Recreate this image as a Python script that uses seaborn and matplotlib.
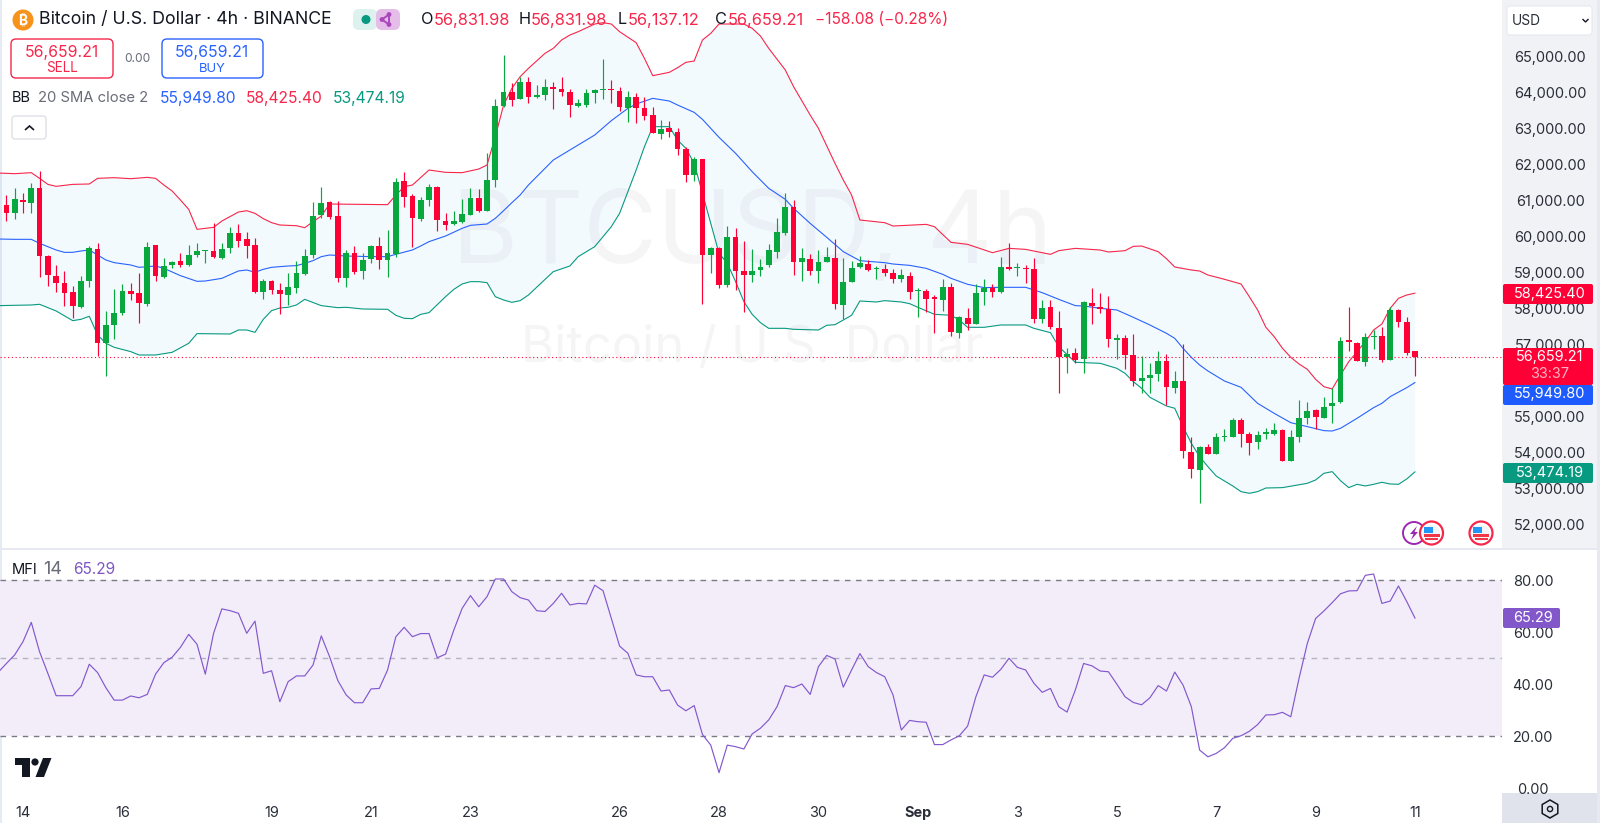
import numpy as np
import pandas as pd
import matplotlib
matplotlib.use("Agg")
import matplotlib.pyplot as plt
from matplotlib.patches import Rectangle, FancyBboxPatch, Circle, Polygon, RegularPolygon
from matplotlib.transforms import Affine2D
import seaborn as sns

# ---------- candle data (4h bars, first bar index = -2; bar 0 = Aug 14 00:00) ----------
opens = [60860,60638,61000,60934,61350,59466,58902,58699,58468,58052,
 58764,59660,57036,57553,57876,58486,58440,58117,59752,58884,
 59198,59309,59198,59484,59595,59595,59390,59668,60084,59936,
 59761,58468,58754,58514,58375,58560,58958,59483,60592,60952,
 60564,58856,59530,59041,59364,59733,59346,59511,61535,61110,
 60481,61008,61378,60435,60343,60389,60592,61054,60712,61553,
 63614,63992,63798,64279,63863,63919,64131,64076,64002,63623,
 63641,63983,64057,64076,64039,63568,63854,63568,63364,62838,
 63004,62902,62431,61701,62135,59484,59669,58653,59973,59031,
 58939,59068,59198,59567,60084,60823,59299,59373,59050,59299,
 59401,58098,58736,59161,59235,59105,59105,58985,58810,58902,
 58495,58486,58311,58237,58597,57331,57738,57572,58449,58560,
 58459,59152,59124,59124,59096,57719,58052,57451,56648,56758,
 56592,58144,58033,57987,57128,57184,56712,55991,56065,56176,
 56546,55807,55991,54032,53524,54171,53959,54430,54448,54910,
 54522,54300,54531,54522,54633,53765,54430,54975,55188,54975,
 55298,55400,57128,57054,56527,57220,57239,56574,57960,57618,56831.98]
highs = [61147,61331,61193,61488,61821,59484,59207,59050,58634,58902,
 59734,59826,57932,58532,58680,58717,58976,59854,59771,59392,
 59318,59530,59752,59808,59623,60361,59807,60250,60333,60130,
 59945,58810,58791,58717,58994,59327,59641,60962,61378,60980,
 60980,59623,59743,59530,59760,59973,60176,61608,61775,61174,
 61100,61451,61396,60638,60712,61026,61331,61304,62320,63798,
 65027,64242,64427,64427,64196,64362,64288,64408,64076,63798,
 64076,64076,64907,64334,64131,64039,63965,63872,63577,63226,
 63207,62995,62486,62209,62135,59715,59700,60296,60222,59881,
 59651,59364,59789,60500,61211,61008,59669,59512,59623,59697,
 59928,59392,59318,59466,59346,59179,59235,59096,59087,59004,
 58560,58542,58375,58810,58717,57793,58006,58671,58828,58680,
 59420,59808,59253,59207,59392,58237,58237,57941,56897,56897,
 58209,58560,58422,58348,57294,57267,57294,56694,56481,56832,
 56740,56269,57017,54448,54199,54245,54541,54652,54957,54975,
 54568,54605,54679,54818,54650,54633,55465,55418,55206,55557,
 55788,57202,58052,57082,57313,57405,57479,58052,57987,57756,56831.98]
lows = [60435,60481,60638,60638,58884,58634,58468,58070,57747,58006,
 58606,56684,56139,57146,57821,58237,57608,58070,58773,58856,
 59115,59161,59179,59420,59272,59410,59373,59549,59714,59391,
 58440,58264,58403,57849,58098,58440,58930,59392,60500,60472,
 58745,58606,58958,58810,59253,59087,58865,59420,60805,59696,
 60435,60842,60148,60176,60315,60361,60592,60684,60712,61378,
 63595,63614,63798,63706,63826,63780,63521,63891,63318,63595,
 63577,63688,63817,63706,63475,63179,63133,63226,62856,62690,
 62745,62255,61498,61544,58126,58994,58579,58606,58514,57913,
 58745,58911,59142,59392,60028,58930,58764,58930,58699,59299,
 57987,57710,58736,59115,59050,58819,58902,58717,58745,58255,
 57756,57895,57313,57932,57248,57193,57405,57572,58098,58329,
 58440,59068,58902,58699,57608,57608,57424,55650,56222,56500,
 56222,57572,57886,56925,56592,56315,55853,55668,55650,56001,
 55326,55668,53848,53293,52600,53959,53959,54337,54448,54153,
 53940,54097,54374,54485,53765,53765,54310,54799,54651,54975,
 54836,55372,56832,56537,56407,56869,56527,56574,57479,56712,56137.12]
closes = [60638,61026,60952,61350,59456,58939,58717,58422,58080,58764,
 59669,57036,57553,57876,58486,58403,58163,59715,58902,59179,
 59299,59198,59484,59586,59614,59438,59650,60084,59880,59742,
 58468,58773,58514,58394,58588,58976,59466,60574,60934,60546,
 58856,59530,59022,59346,59734,59345,59549,61516,61100,60500,
 61008,61378,60454,60315,60435,60610,61054,60712,61553,63614,
 64011,63780,64288,63872,63919,64131,64076,64011,63641,63688,
 63965,64057,64076,64057,63595,63854,63568,63336,62874,62985,
 62902,62431,61701,62135,59484,59678,58653,59973,59050,58939,
 59050,59161,59632,60110,60823,59299,59392,59041,59299,59420,
 58126,58745,59133,59253,59068,59124,58976,58810,58930,58468,
 58523,58255,58274,58606,57359,57756,57572,58440,58579,58468,
 59152,59087,59142,59087,57719,58024,57479,56648,56740,56574,
 58172,58071,57987,57146,57193,56712,55991,56065,56158,56555,
 55834,55982,54060,53543,54171,53959,54430,54467,54910,54522,
 54282,54494,54568,54633,53765,54430,54957,55169,55003,55280,
 55391,57110,57072,56537,57202,57239,56574,57960,57618,56777,56659.21]

# ---------- Bollinger bands, read at the bars where the line changes direction ----------
upper_k = [-3,-1,1,2,3,4,6,8,9,11,13,15,16,17,18,19,20,21,23,24,26,27,28,29,30,31,33,34,35,36,37,
 44,45,46,47,49,51,53,55,56,57,58,59,60,61,63,64,65,66,67,69,70,71,72,74,75,76,78,79,80,81,82,83,84,
 87,88,89,90,92,93,95,96,98,99,100,101,104,105,109,110,112,114,117,119,121,124,125,127,130,131,133,134,135,
 137,138,139,141,142,143,145,147,148,149,150,151,152,153,154,155,156,157,158,159,160,161,162,163,164,165,166,167,168]
upper = [61756,61738,61766,61609,61442,61387,61442,61452,61609,61627,61599,61636,61609,61424,61257,61008,60749,60195,60250,60426,60675,60712,60638,60491,60380,60315,60296,60241,60407,60564,60897,
 60879,61147,61378,61424,61840,61775,61766,61867,61978,62764,63641,64103,64427,64658,65074,65212,65443,65582,65674,65887,65924,65887,65674,65369,64935,64455,64547,64676,64824,64861,65443,65628,65887,
 65887,65767,65554,65212,64612,64150,63364,62995,62024,61562,61147,60454,60380,60287,60333,60269,59835,59779,59548,59668,59640,59502,59604,59668,59622,59567,59604,59724,59733,
 59576,59382,59151,59068,59040,58930,58810,58680,58329,57960,57479,57220,56897,56648,56463,56315,56038,55834,55770,56158,56527,56805,57082,57405,57572,58006,58283,58375,58425.40]

basis_k = [-3,-1,1,2,3,4,5,6,7,8,9,10,11,13,14,16,17,19,21,22,24,26,27,28,29,30,32,33,34,35,36,37,39,42,44,45,47,48,49,51,53,54,56,57,58,59,60,61,
 64,66,69,71,73,74,76,78,79,81,82,83,84,86,88,90,92,93,95,97,99,101,104,105,107,109,111,112,114,116,118,121,123,125,
 127,128,130,132,134,136,138,139,140,141,142,143,145,147,149,151,153,155,157,158,159,161,163,164,165,167,168]
basis = [59927,59918,59918,59807,59714,59622,59557,59558,59595,59623,59484,59346,59272,59207,59142,59179,59115,58911,58754,58763,58837,59041,59068,59004,59087,59142,59179,59189,59253,59327,59438,59484,59456,59438,59438,59503,59623,59734,59854,60010,60223,60306,60343,60500,60712,60934,61147,61424,
 62117,62394,62810,63207,63549,63670,63826,63752,63641,63438,63244,62995,62745,62302,61793,61331,61026,60777,60361,59973,59576,59326,59271,59234,59197,59114,58947,58837,58671,58579,58588,58588,58440,58255,
 58080,58070,58006,57960,57756,57544,57313,57174,56897,56648,56435,56269,55991,55816,55372,55095,54836,54726,54615,54605,54679,54957,55252,55372,55557,55807,55949.80]

lower_k = [-3,1,2,4,6,7,8,9,10,11,13,14,16,18,20,21,25,26,27,28,29,30,31,32,33,34,36,38,39,41,44,45,46,47,48,49,51,52,53,54,55,56,57,58,59,60,61,
 64,66,67,69,71,72,74,75,76,78,79,80,81,82,83,84,85,86,87,88,89,90,92,93,96,97,98,99,100,101,103,104,106,107,108,110,112,113,114,116,118,121,122,124,125,
 127,130,132,133,134,135,136,138,139,140,141,142,143,144,146,147,148,149,150,152,155,156,157,158,159,160,161,162,163,164,165,166,167,168]
lower = [58080,58098,58117,57932,57664,57701,57784,57267,57036,56925,56805,56712,56712,56786,57036,57304,57294,57405,57405,57340,57701,57941,58015,58034,58098,58255,58080,58024,58034,57987,57978,57812,57729,57719,57839,57886,58329,58532,58680,58745,58745,58717,58329,58237,58172,58218,58375,
 59022,59179,59438,59715,60269,60638,61840,62486,63041,63041,62671,62440,62024,61193,60361,59530,59253,58745,58191,57839,57608,57451,57451,57424,57405,57535,57553,57682,57812,58209,58181,58218,58181,58135,58034,57839,57812,57682,57479,57479,57544,57544,57451,57331,56943,
 56509,56481,56343,56204,55973,55788,55539,55298,55234,54726,54264,53894,53617,53358,53081,52924,52878,52924,53025,53035,53155,53247,53432,53478,53229,53035,53127,53081,53127,53183,53136,53127,53275,53474.19]

# ---------- MFI, one value per bar starting at bar index -3 ----------
mfi = [44.5,47.9,51.2,56.3,63.7,52.4,44.1,35.5,35.5,35.5,39.0,47.6,44.4,38.6,33.8,33.8,35.4,34.7,36.0,43.8,
 48.2,50.3,54.1,59.1,55.3,43.8,59.5,68.9,68.2,67.2,59.5,64.2,44.1,45.1,33.2,40.9,43.1,43.1,47.3,58.5,
 50.5,41.3,35.8,32.8,32.8,38.1,38.3,45.4,58.2,61.8,58.2,59.4,59.4,50.1,51.5,60.8,69.1,74.0,69.7,73.6,
 80.4,80.4,75.5,73.2,72.3,68.2,67.9,71.0,74.9,70.4,71.0,70.8,78.0,75.9,65.2,54.6,51.8,43.5,42.8,42.8,
 37.3,37.7,31.9,29.7,31.7,20.6,16.5,5.9,16.5,15.9,15.0,20.8,23.0,26.2,31.3,39.4,38.6,
 40.0,36.0,46.7,51.0,49.6,38.8,45.4,51.7,46.7,44.4,42.8,35.8,22.3,26.0,25.5,25.3,16.7,16.7,18.5,20.1,
 23.8,35.1,43.5,42.6,45.6,49.9,46.4,45.4,40.3,36.8,38.3,31.3,29.2,37.7,47.9,47.0,45.0,44.7,40.0,35.1,
 32.9,32.0,34.7,39.4,37.3,44.6,39.6,31.3,14.6,12.0,13.3,15.5,19.1,20.1,21.8,24.4,28.1,28.2,29.1,27.4,
 42.2,55.6,65.2,68.1,71.3,74.7,75.8,75.9,81.8,82.3,71.0,71.9,77.7,71.7,65.29]

# the 56,000 label sits behind the price tags in the reference, so it is not drawn
price_ticks = [52000,53000,54000,55000,57000,58000,59000,60000,61000,62000,63000,64000,65000]
mfi_ticks = [0,20,40,60,80]
date_bars = [0,12,30,42,54,72,84,96,108,120,132,144,156,168]
date_labels = ["14","16","19","21","23","26","28","30","Sep","3","5","7","9","11"]

# ---------- colours ----------
UP, DOWN = "#08A83F", "#FF0036"
C_UP, C_MID, C_LOW = "#F7264A", "#2962FF", "#089981"
INK = "#131722"; GREY = "#6A6D78"; PURPLE = "#7E57C2"; TICK = "#2A2E39"

sns.set_theme(style="white")
plt.rcParams["font.family"] = ["Inter", "DejaVu Sans"]

W, H = 1600, 823
fig = plt.figure(figsize=(W/100, H/100), dpi=100, facecolor="white")
PX = Affine2D().scale(1, -1).translate(0, H)   # pixel coordinates, origin top left
renderer = fig.canvas.get_renderer()

def fit_size(s, width, **kw):
    t = fig.text(0, 0, s, fontsize=10, **kw)
    w = t.get_window_extent(renderer).width
    t.remove()
    return 10*width/w

def axbox(x0, y0, x1, y1):
    return [x0/W, 1-y1/H, (x1-x0)/W, (y1-y0)/H]

PXBAR = 8.286
def k_at(px):
    return (px-23)/PXBAR

ax = fig.add_axes(axbox(0, 0, 1502, 548), zorder=1)
ax2 = fig.add_axes(axbox(0, 550, 1502, 793), zorder=1)
for a in (ax, ax2):
    a.set_xlim(k_at(0), k_at(1502))
    a.set_facecolor("none")
    for s in a.spines.values():
        s.set_visible(False)
ax.set_ylim(65000-(548-56)*27.72, 65000+56*27.72)
ax2.set_ylim(-1.92, 91.54)

# background strips
fig.add_artist(Rectangle((1502, 0), 98, 548, transform=PX, fc="#F0F2F6", ec="none", zorder=-1))
fig.add_artist(Rectangle((0, 548), 1600, 2, transform=PX, fc="#E6E9F0", ec="none", zorder=-1))
fig.add_artist(Rectangle((0, 0), 1.5, 823, transform=PX, fc="#E6EAF3", ec="none", zorder=-1))
fig.add_artist(Rectangle((1596.5, 0), 3.5, 823, transform=PX, fc="#E6E9F0", ec="none", zorder=-1))
fig.add_artist(Rectangle((1502, 793), 95, 30, transform=PX, fc="#E0E3EB", ec="none", zorder=-1))

# watermark
ax.text(752, 263, "BTCUSD, 4h", transform=PX, fontsize=fit_size("BTCUSD, 4h", 601), color=INK, alpha=0.04,
        ha="center", va="baseline", zorder=0)
ax.text(752, 362, "Bitcoin / U.S. Dollar", transform=PX, fontsize=fit_size("Bitcoin / U.S. Dollar", 465),
        color=INK, alpha=0.04, ha="center", va="baseline", zorder=0)

# band fill and lines
ax.fill(np.r_[upper_k, lower_k[::-1]], np.r_[upper, lower[::-1]], color="#1FA2F0", alpha=0.05, lw=0, zorder=1)
for xs, ys, col in ((upper_k, upper, C_UP), (basis_k, basis, C_MID), (lower_k, lower, C_LOW)):
    sns.lineplot(data=pd.DataFrame({"bar": xs, "price": ys}), x="bar", y="price", ax=ax,
                 color=col, lw=0.8, errorbar=None, sort=False, zorder=2)

# candles
bars = np.arange(-2, -2+len(opens))
o, h, l, c = map(np.asarray, (opens, highs, lows, closes))
cols = np.where(c >= o, UP, DOWN)
ax.vlines(bars, l, h, colors=cols, lw=0.85, zorder=3)
ax.bar(bars, np.abs(c-o), bottom=np.minimum(o, c), width=0.70, color=cols, lw=0, zorder=4)
ax.axhline(closes[-1], color=DOWN, lw=0.8, ls=(0, (1, 2.4)), zorder=5)

# price axis
tick_size = fit_size("65,000.00", 73)
ax.set_yticks(price_ticks, [f"{t:,.2f}" for t in price_ticks])
ax.yaxis.tick_right()
ax.tick_params(axis="y", length=0, pad=34.6, labelsize=tick_size, labelcolor=TICK)
for t in ax.get_yticklabels():
    t.set_ha("center")
ax.set_xticks([])
ax.set_xlabel(""); ax.set_ylabel("")

# MFI panel
ax2.axhspan(20, 80, color="#F3EDFA", lw=0, zorder=1)
ax2.axhline(80, color="#787B86", lw=1, ls=(0, (4, 4)), zorder=2)
ax2.axhline(50, color="#787B86", lw=1, ls=(0, (4, 4)), alpha=0.5, zorder=2)
ax2.axhline(20, color="#787B86", lw=1, ls=(0, (4, 4)), zorder=2)
sns.lineplot(data=pd.DataFrame({"bar": np.arange(-3, -3+len(mfi)), "mfi": mfi}), x="bar", y="mfi", ax=ax2,
             color="#8258CC", lw=0.85, errorbar=None, sort=False, zorder=3)
ax2.set_yticks(mfi_ticks, [f"{t:.2f}" for t in mfi_ticks])
ax2.yaxis.tick_right()
ax2.tick_params(axis="y", length=0, pad=22.3, labelsize=tick_size, labelcolor=TICK)
for t in ax2.get_yticklabels():
    t.set_ha("center")
ax2.set_xticks(date_bars, date_labels)
ax2.tick_params(axis="x", length=0, pad=9.5, labelsize=tick_size, labelcolor=TICK)
for t in ax2.get_xticklabels():
    if t.get_text() == "Sep":
        t.set_fontweight("bold")
ax2.set_xlabel(""); ax2.set_ylabel("")

# ---------- overlays in pixel coordinates ----------
def T(x, y, s, width=None, size=10.3, color=INK, ha="left", va="center", **kw):
    if width is not None:
        size = fit_size(s, width, **kw)
    return fig.text(x/W, 1-y/H, s, fontsize=size, color=color, ha=ha, va=va, zorder=6, **kw)

def box(x, y, w, h, fc="white", ec="none", r=4, lw=1.0, z=2):
    p = FancyBboxPatch((x+r, y+r), w-2*r, h-2*r, boxstyle=f"round,pad={r},rounding_size={r}",
                       transform=PX, fc=fc, ec=ec, lw=lw, zorder=z)
    fig.add_artist(p)

def circ(x, y, r, fc, ec="none", lw=1.0, z=3):
    fig.add_artist(Circle((x, y), r, transform=PX, fc=fc, ec=ec, lw=lw, zorder=z))

# header
circ(23, 20, 10.5, "#F7931A")
T(23, 20, "₿", size=10, color="white", ha="center", fontweight="bold")
T(39, 20, "Bitcoin / U.S. Dollar · 4h · BINANCE", width=295)
box(353, 9, 24, 21, fc="#DDF1EE", r=6)
box(376, 9, 24, 21, fc="#E4BEE8", r=6)
circ(366, 19.5, 4.5, "#089981")
for dx, dy in ((-4, 0), (3, -5), (3, 5)):
    circ(386+dx, 19.5+dy, 2.4, "#AB47BC")
fig.add_artist(Polygon([(382, 19.5), (389, 14.5), (389, 24.5)], closed=True, transform=PX,
                       fc="none", ec="#AB47BC", lw=1.4, zorder=3))
RED = "#F7264A"
OS = fit_size("56,831.98", 77)
T(421, 20, "O", size=OS); T(434, 20, "56,831.98", size=OS, color=RED)
T(519, 20, "H", size=OS); T(531, 20, "56,831.98", size=OS, color=RED)
T(618, 20, "L", size=OS); T(628, 20, "56,137.12", size=OS, color=RED)
T(715, 20, "C", size=OS); T(728, 20, "56,659.21", size=OS, color=RED)
T(815, 20, "−158.08 (−0.28%)", width=134, color=RED)

# sell / buy
box(11, 39, 102, 39, ec="#F7264A", r=5, lw=1.0)
T(62, 52, "56,659.21", width=75, color="#F7264A", ha="center")
T(62, 68.5, "SELL", width=32, color="#F7264A", ha="center")
T(137, 58.5, "0.00", width=26.5, color=GREY, ha="center")
box(162, 39, 101, 39, ec="#2962FF", r=5, lw=1.0)
T(212, 52, "56,659.21", width=75, color="#2962FF", ha="center")
T(212, 68.5, "BUY", width=27, color="#2962FF", ha="center")

# legend row
T(12, 98.5, "BB", width=19)
T(37.5, 98.5, "20 SMA close 2", width=111, color=GREY)
LEG = fit_size("55,949.80", 77.5)
T(160, 98.5, "55,949.80", size=LEG, color=C_MID)
T(246, 98.5, "58,425.40", size=LEG, color=C_UP)
T(333, 98.5, "53,474.19", size=LEG, color=C_LOW)
box(12, 116, 34, 23, ec="#DDE0E6", r=3, lw=1.0)
fig.add_artist(Polygon([(25, 130), (29.5, 126), (34, 130)], closed=False, transform=PX,
                       fc="none", ec=INK, lw=1.2, zorder=3))

# currency box
box(1507, 6, 85, 29, ec="#E6E9F0", r=3, lw=0.8)
T(1512, 21, "USD", width=29, color=TICK)
fig.add_artist(Polygon([(1582.5, 19), (1585.5, 22), (1588.5, 19)], closed=False, transform=PX,
                       fc="none", ec=INK, lw=1.0, zorder=3))

# price tags
def tag(y0, y1, fc, lines, x0=1503, x1=1593, cx=1550):
    box(x0, y0, x1-x0, y1-y0, fc=fc, r=2, z=2)
    for yy, s, col in lines:
        T(cx, yy, s, size=tick_size, color=col, ha="center")

tag(284, 304, "#FF0036", [(294, "58,425.40", "white")])
tag(348, 385, "#FF0036", [(357, "56,659.21", "white"), (373.5, "33:37", "#FFB3C2")])
tag(385, 405, "#1E5BFF", [(394, "55,949.80", "white")])
tag(463, 483, "#089981", [(473, "53,474.19", "white")])
tag(608, 628, "#8257C9", [(618, "65.29", "white")], x0=1503, x1=1560, cx=1533)

# event icons
circ(1414, 533, 11, "white", ec="#9C27B0", lw=1.4)
fig.add_artist(Polygon([(1417, 526), (1410, 534), (1413.5, 534), (1411, 540), (1418, 532), (1414.5, 532)],
                       transform=PX, fc="#9C27B0", ec="none", zorder=3))
for cx_ in (1431.5, 1481):
    circ(cx_, 533, 11.5, "white", ec="#F7264A", lw=1.6)
    circ(cx_, 533, 8.5, "#F2F4F8")
    fig.add_artist(Rectangle((cx_-8, 534), 16, 2.6, transform=PX, fc="#F23645", ec="none", zorder=3))
    fig.add_artist(Rectangle((cx_-6.5, 538), 13, 2.4, transform=PX, fc="#F23645", ec="none", zorder=3))
    fig.add_artist(Rectangle((cx_-8, 527), 9, 6, transform=PX, fc="#2196F3", ec="none", zorder=3))

# MFI legend
T(12, 570, "MFI", width=26)
T(43, 570, "14", width=19, color=GREY)
T(73.5, 570, "65.29", width=43, color=PURPLE)

# logo
fig.add_artist(Polygon([(15, 758), (30, 758), (30, 777), (22, 777), (22, 765), (15, 765)], transform=PX,
                       fc=INK, ec="none", zorder=3))
circ(35, 762, 3.6, INK)
fig.add_artist(Polygon([(43, 758), (51.5, 758), (44, 777), (35.5, 777)], transform=PX, fc=INK, ec="none", zorder=3))

# settings hexagon
fig.add_artist(RegularPolygon((1550, 809), 6, radius=9, orientation=np.pi/3, transform=PX,
                              fc="none", ec=INK, lw=1.1, zorder=3))
circ(1550, 809, 2.6, "none", ec=INK, lw=1.0)

fig.savefig("out.png", dpi=100, facecolor="white")
